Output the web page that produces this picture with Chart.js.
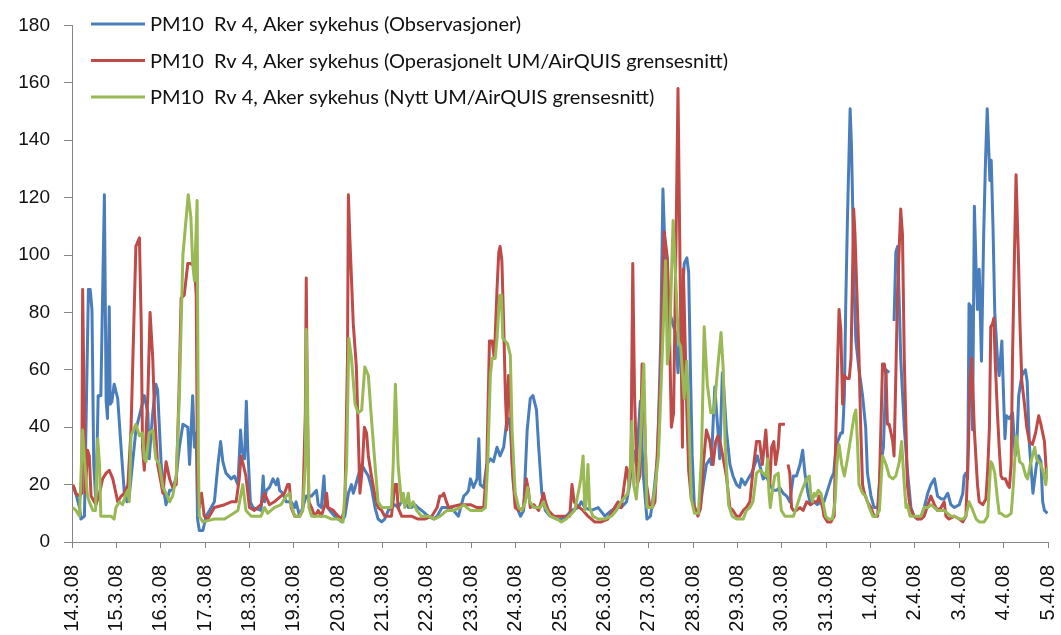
<!DOCTYPE html>
<html>
<head>
<meta charset="utf-8">
<script src="https://cdn.jsdelivr.net/npm/chart.js@4.4.1/dist/chart.umd.min.js"></script>
<style>
  html, body { margin: 0; padding: 0; background: #fff; }
  #wrap { width: 1061px; height: 635px; }
</style>
</head>
<body>
<div id="wrap"><canvas id="pmChart" width="1061" height="635"></canvas></div>
<script>
// tick labels, one per day
const dayLabels = ['14.3.08', '15.3.08', '16.3.08', '17.3.08', '18.3.08', '19.3.08', '20.3.08',
    '21.3.08', '22.3.08', '23.3.08', '24.3.08', '25.3.08', '26.3.08', '27.3.08', '28.3.08',
    '29.3.08', '30.3.08', '31.3.08', '1.4.08', '2.4.08', '3.4.08', '4.4.08', '5.4.08'];

const seriesNames = [
    'PM10  Rv 4, Aker sykehus (Observasjoner)',
    'PM10  Rv 4, Aker sykehus (Operasjonelt UM/AirQUIS grensesnitt)',
    'PM10  Rv 4, Aker sykehus (Nytt UM/AirQUIS grensesnitt)'
];

// [days since 14.3.08, PM10 value], null = missing
const observed = [
    [0.05,19],[0.17,12],[0.2,8],[0.28,9],[0.37,88],[0.41,88],[0.45,81],[0.49,27],[0.54,14],[0.59,51],
    [0.65,51],[0.73,121],[0.77,49],[0.8,43],[0.84,82],[0.86,48],[0.9,49],[0.95,55],[1.03,50],[1.11,32],
    [1.18,17],[1.24,14],[1.29,16],[1.44,39],[1.63,51],[1.71,45],[1.74,29],[1.82,45],[1.89,55],[1.93,53],
    [2.01,27],[2.08,17],[2.12,13],[2.2,18],[2.27,18],[2.35,23],[2.42,33],[2.5,41],[2.61,40],[2.65,27],
    [2.72,51],[2.76,33],[2.8,38],[2.83,8],[2.87,4],[2.95,4],[2.98,6],[3.02,9],[3.1,11],[3.21,14],
    [3.29,27],[3.35,35],[3.4,28],[3.47,24],[3.59,22],[3.66,23],[3.74,20],[3.8,39],[3.83,32],[3.89,29],
    [3.93,49],[3.96,33],[4.02,14],[4.08,12],[4.26,11],[4.31,23],[4.34,14],[4.38,18],[4.45,19],[4.53,22],
    [4.6,20],[4.64,22],[4.68,18],[4.75,17],[4.83,14],[4.94,14],[5.02,12],[5.05,14],[5.13,9],[5.2,12],
    [5.28,16],[5.4,16],[5.51,18],[5.55,13],[5.62,12],[5.68,23],[5.71,13],[5.81,11],[5.92,9],[6,8],
    [6.08,7],[6.15,9],[6.23,17],[6.3,20],[6.34,17],[6.38,19],[6.45,23],[6.53,27],[6.6,25],[6.68,23],
    [6.75,19],[6.83,12],[6.9,8],[6.98,7],[7.05,8],[7.13,11],[7.2,12],[7.28,13],[7.35,12],[7.43,14],
    [7.5,14],[7.58,12],[7.65,12],[7.73,13],[7.8,12],[7.88,11],[8.03,9],[8.15,8],[8.23,9],[8.34,12],
    [8.49,12],[8.6,11],[8.71,9],[8.83,16],[8.9,17],[8.94,18],[8.98,22],[9.05,19],[9.13,22],[9.17,36],
    [9.2,20],[9.28,19],[9.35,27],[9.43,29],[9.5,28],[9.58,33],[9.65,30],[9.73,33],[9.79,41],[9.84,43],
    [9.88,40],[9.95,20],[10.03,12],[10.11,9],[10.18,11],[10.26,39],[10.33,50],[10.39,51],[10.47,46],[10.52,33],
    [10.59,17],[10.67,11],[10.78,9],[10.93,8],[11.03,8],[11.14,9],[11.26,11],[11.41,12],[11.48,14],[11.56,12],
    [11.71,11],[11.86,12],[12.01,9],[12.16,11],[12.27,12],[12.38,12],[12.5,14],[12.57,20],[12.65,32],[12.72,27],
    [12.81,49],[12.87,25],[12.96,8],[13.04,9],[13.12,18],[13.2,30],[13.27,70],[13.32,123],[13.37,100],[13.41,92],
    [13.47,80],[13.6,73],[13.66,59],[13.74,80],[13.8,97],[13.86,99],[13.9,94],[13.94,60],[13.98,30],[14.03,12],
    [14.08,10],[14.15,11],[14.23,20],[14.3,27],[14.38,29],
    [14.41,27],[14.45,41],[14.49,54],[14.53,45],[14.56,39],[14.6,29],[14.66,59],[14.69,54],[14.75,39],[14.83,27],
    [14.9,23],[14.98,20],[15.05,19],[15.09,22],[15.17,20],[15.24,22],[15.32,24],[15.39,27],[15.45,30],[15.5,27],
    [15.58,22],[15.65,23],[15.73,20],[15.8,18],[15.88,18],[15.95,19],[16.03,17],[16.11,16],[16.18,14],[16.26,23],
    [16.33,23],[16.41,27],[16.47,32],[16.52,24],[16.59,17],[16.65,13],[16.73,14],[16.8,13],[16.88,14],[16.95,14],
    [17.03,18],[17.11,22],[17.17,24],[17.22,33],[17.26,35],[17.33,38],[17.37,38],[17.41,51],[17.44,82],[17.48,113],
    [17.54,151],[17.57,138],[17.59,123],[17.63,88],[17.67,70],[17.74,60],[17.82,51],[17.89,40],[17.93,24],[18.01,16],
    [18.08,12],[18.16,12],[18.23,27],[18.29,33],[18.35,60],[18.42,59],[18.46,null],[18.53,77],[18.57,101],[18.61,103],
    [18.65,82],[18.68,64],[18.76,40],[18.83,25],[18.91,12],[18.98,9],[19.06,8],[19.14,9],[19.21,12],[19.29,17],
    [19.36,20],[19.44,22],[19.51,16],[19.59,15],[19.66,15],[19.74,17],[19.81,13],[19.89,12],[20,13],[20.08,17],
    [20.11,23],[20.15,24],[20.19,22],[20.22,83],[20.26,82],[20.3,39],[20.34,117],[20.38,95],[20.41,81],[20.45,95],
    [20.5,63],[20.55,107],[20.59,132],[20.63,151],[20.69,126],[20.72,133],[20.76,110],[20.8,80],
    [20.86,64],[20.9,58],[20.96,70],[21.0,50],[21.03,36],[21.06,44],[21.13,43],[21.2,45],[21.26,30],[21.3,35],
    [21.34,51],[21.41,58],[21.49,60],[21.53,56],[21.58,34],[21.66,17],[21.7,22],[21.74,27],
    [21.79,30],[21.84,28],[21.88,14],[21.92,11],[21.99,10]
];

const operational = [
    [0.02,20],[0.08,17],[0.17,16],[0.22,17],[0.24,88],[0.3,17],[0.35,32],[0.39,30],[0.43,16],[0.54,13],
    [0.62,17],[0.69,22],[0.77,24],[0.84,25],[0.92,22],[0.99,17],[1.03,14],[1.11,16],[1.18,17],[1.26,20],
    [1.33,39],[1.44,103],[1.52,106],[1.56,76],[1.59,33],[1.63,25],[1.71,51],[1.76,80],[1.82,64],[1.86,45],
    [1.93,27],[2.05,17],[2.12,28],[2.2,22],[2.27,19],[2.35,20],[2.41,51],[2.46,85],[2.53,86],[2.61,97],
    [2.68,97],[2.76,96],[2.8,86],[2.83,20],[2.87,12],[2.89,16],[2.92,17],[2.98,9],[3.06,8],[3.21,12],
    [3.44,13],[3.59,14],[3.7,14],[3.77,22],[3.81,30],[3.86,27],[3.92,23],[4,12],[4.11,11],[4.26,13],
    [4.34,17],[4.45,13],[4.56,14],[4.71,16],[4.79,17],[4.86,20],[4.9,20],[4.94,12],[5.02,9],[5.13,9],
    [5.2,11],[5.26,45],[5.28,92],[5.31,40],[5.34,14],[5.4,12],[5.47,9],[5.55,11],[5.62,9],[5.7,13],
    [5.74,17],[5.77,12],[5.89,11],[6,9],[6.08,8],[6.15,12],[6.21,64],[6.23,121],[6.26,107],[6.34,76],
    [6.41,61],[6.45,39],[6.49,17],[6.54,25],[6.59,40],[6.64,38],[6.68,30],[6.75,23],[6.83,16],[6.9,12],
    [6.98,11],[7.05,9],[7.2,9],[7.28,20],[7.32,20],[7.35,12],[7.43,9],[7.5,9],[7.65,9],[7.8,8],
    [7.95,8],[8.11,9],[8.23,12],[8.29,16],[8.34,16],[8.38,17],[8.44,14],[8.49,12],[8.75,13],[8.98,13],
    [9.13,12],[9.28,12],[9.35,27],[9.41,70],[9.47,70],[9.52,64],[9.58,88],[9.62,101],[9.65,103],[9.69,98],
    [9.73,76],[9.77,51],[9.8,39],[9.84,58],[9.88,51],[9.92,27],[9.99,12],[10.07,11],[10.18,12],[10.24,22],
    [10.29,18],[10.33,12],[10.41,13],[10.52,11],[10.63,17],[10.67,14],[10.74,11],[10.86,9],[11.01,9],[11.22,9],
    [11.27,20],[11.32,14],[11.37,13],[11.44,12],[11.52,11],[11.63,9],[11.78,7],[11.93,7],[12.08,8],[12.23,12],
    [12.31,14],[12.38,12],[12.5,26],[12.56,20],[12.6,29],[12.64,97],[12.68,51],[12.74,20],[12.8,23],[12.85,62],
    [12.89,50],[12.95,20],[13.02,13],[13.08,12],[13.14,14],[13.19,30],[13.27,60],[13.32,95],[13.35,108],[13.42,99],
    [13.46,80],[13.51,40],[13.56,45],[13.62,110],[13.66,158],[13.71,90],[13.76,33],[13.78,95],[13.82,70],[13.86,45],
    [13.9,25],[13.96,15],[14.04,12],[14.11,9],[14.17,12],[14.23,27],[14.3,39],
    [14.38,35],[14.45,27],[14.51,35],[14.56,37],[14.62,34],[14.68,29],[14.75,23],[14.83,12],[14.9,11],[14.98,9],
    [15.05,9],[15.13,11],[15.2,12],[15.28,14],[15.35,25],[15.43,35],[15.5,35],[15.56,27],[15.64,39],[15.69,27],
    [15.73,20],[15.77,33],[15.82,35],[15.86,27],[15.92,33],[15.95,41],[16.03,41],[16.07,41],[16.11,null],[16.14,27],
    [16.18,24],[16.22,12],[16.26,11],[16.33,11],[16.41,12],[16.48,11],[16.56,14],[16.65,13],[16.73,14],[16.8,14],
    [16.84,16],[16.92,12],[16.95,9],[17.03,7],[17.11,7],[17.18,9],[17.22,39],[17.26,64],[17.29,81],[17.33,74],
    [17.37,48],[17.41,58],[17.47,57],[17.52,57],[17.56,64],[17.62,116],[17.65,107],[17.69,88],[17.74,64],[17.78,39],
    [17.82,20],[17.86,17],[17.93,14],[18.01,12],[18.08,9],[18.16,9],[18.2,20],[18.27,62],[18.31,62],[18.35,58],
    [18.38,41],[18.42,41],[18.5,35],[18.53,30],[18.57,58],[18.61,88],[18.68,116],[18.72,107],[18.76,64],[18.8,39],
    [18.83,20],[18.89,12],[18.98,9],[19.06,8],[19.14,8],[19.21,9],[19.29,13],[19.36,16],[19.44,13],[19.51,11],
    [19.59,12],[19.66,14],[19.7,9],[19.77,8],[19.89,9],[20,8],[20.08,7],[20.15,9],[20.21,35],[20.24,55],
    [20.28,64],[20.34,39],[20.38,28],[20.41,20],[20.45,14],[20.53,13],[20.6,15],[20.64,25],[20.68,40],[20.71,75],
    [20.75,76],[20.78,78],[20.81,63],[20.86,45],[20.9,33],[20.94,23],[20.98,22],[21.04,22],[21.09,20],[21.13,19],
    [21.17,27],[21.2,64],[21.24,97],[21.28,128],[21.33,101],[21.37,75],[21.41,56],[21.47,48],[21.52,40],[21.58,35],
    [21.65,34],[21.72,38],[21.79,44],[21.84,41],[21.92,35],[21.96,25],[21.99,22]
];

const newInterface = [
    [0.02,12],[0.09,11],[0.17,9],[0.24,39],[0.28,29],[0.35,16],[0.39,14],[0.47,11],[0.53,11],[0.58,36],
    [0.62,27],[0.65,9],[0.77,9],[0.88,9],[0.95,8],[0.99,12],[1.07,14],[1.14,13],[1.22,17],[1.26,18],
    [1.29,14],[1.33,37],[1.44,41],[1.52,37],[1.59,38],[1.63,29],[1.67,28],[1.74,38],[1.82,39],[1.89,29],
    [1.97,27],[2.05,19],[2.12,17],[2.2,14],[2.27,16],[2.35,23],[2.42,51],[2.5,100],[2.62,121],[2.68,113],
    [2.72,97],[2.76,91],[2.82,119],[2.85,27],[2.87,9],[2.95,7],[3.21,8],[3.44,8],[3.74,11],[3.85,20],
    [3.92,11],[4.04,9],[4.26,9],[4.34,12],[4.41,10],[4.56,12],[4.71,13],[4.83,16],[4.9,17],[4.94,13],
    [5.02,9],[5.13,9],[5.2,11],[5.26,27],[5.28,74],[5.31,51],[5.34,12],[5.4,9],[5.55,9],[5.7,9],
    [5.85,8],[6,8],[6.11,7],[6.19,27],[6.24,71],[6.3,64],[6.38,48],[6.45,45],[6.53,46],[6.6,61],
    [6.68,58],[6.75,43],[6.83,27],[6.9,14],[6.98,12],[7.09,12],[7.2,12],[7.24,27],[7.29,55],[7.35,27],
    [7.39,20],[7.43,14],[7.47,17],[7.5,12],[7.54,14],[7.58,17],[7.62,12],[7.69,14],[7.77,11],[7.88,9],
    [8.03,9],[8.18,8],[8.3,9],[8.45,11],[8.6,11],[8.75,12],[8.83,13],[8.9,12],[8.98,11],[9.13,11],
    [9.24,11],[9.32,12],[9.37,27],[9.43,58],[9.47,64],[9.54,64],[9.58,71],[9.64,86],[9.68,86],[9.71,71],
    [9.77,70],[9.82,69],[9.88,65],[9.92,39],[9.99,17],[10.07,12],[10.14,11],[10.22,14],[10.27,19],[10.32,14],
    [10.41,12],[10.56,12],[10.63,14],[10.67,12],[10.78,9],[10.93,8],[11.03,7],[11.14,8],[11.33,11],[11.41,17],
    [11.47,22],[11.52,30],[11.56,11],[11.59,14],[11.63,27],[11.67,12],[11.74,9],[11.86,8],[12.01,8],[12.16,9],
    [12.27,11],[12.38,14],[12.53,17],[12.59,27],[12.62,42],[12.66,20],[12.72,15],[12.8,30],[12.85,50],[12.89,62],
    [12.93,30],[12.96,12],[13.08,12],[13.15,20],[13.22,30],[13.28,55],[13.34,80],[13.38,98],[13.42,62],[13.47,70],
    [13.55,112],[13.61,91],[13.67,70],[13.72,68],[13.8,50],[13.86,63],[13.91,40],[13.96,15],[14.03,10],[14.12,10],
    [14.19,30],[14.25,75],[14.32,55],[14.4,45],[14.47,45],[14.55,60],[14.63,73],[14.68,60],[14.72,35],[14.8,13],
    [14.88,9],[14.98,8],[15.05,8],[15.13,8],[15.2,11],
    [15.28,12],[15.35,14],[15.43,24],[15.5,25],[15.58,24],[15.64,23],[15.68,29],[15.71,17],[15.74,12],[15.79,18],
    [15.84,23],[15.92,24],[15.95,17],[15.99,11],[16.07,9],[16.14,9],[16.26,9],[16.33,12],[16.41,16],[16.48,19],
    [16.56,22],[16.62,23],[16.65,17],[16.69,14],[16.73,17],[16.77,16],[16.82,18],[16.88,17],[16.94,13],[16.99,9],
    [17.05,8],[17.14,8],[17.2,14],[17.24,27],[17.29,34],[17.35,27],[17.41,23],[17.48,29],[17.56,37],[17.63,44],
    [17.67,46],[17.71,33],[17.74,20],[17.82,17],[17.89,16],[17.97,12],[18.05,9],[18.12,9],[18.2,11],[18.27,30],
    [18.35,27],[18.42,23],[18.5,22],[18.57,23],[18.65,28],[18.7,35],[18.76,20],[18.8,12],[18.83,13],[18.89,9],
    [18.98,9],[19.06,9],[19.14,9],[19.21,12],[19.29,12],[19.36,13],[19.44,12],[19.51,11],[19.66,11],[19.81,9],
    [19.89,9],[20,8],[20.08,8],[20.15,9],[20.22,14],[20.28,12],[20.38,8],[20.45,7],[20.56,7],[20.64,9],
    [20.71,28],[20.75,27],[20.8,24],[20.86,15],[20.9,10],[20.94,10],[21.02,9],[21.09,9],[21.17,10],[21.22,20],
    [21.28,37],[21.32,33],[21.36,28],[21.43,27],[21.5,23],[21.54,22],[21.6,27],[21.7,33],[21.74,29],
    [21.79,28],[21.84,27],[21.9,24],[21.95,20],[21.99,26]
];

const lineColors = ['#4A7EBB', '#BE4B48', '#98B954'];

function toPoints(pairs) {
    return pairs.map(p => ({ x: p[0], y: p[1] }));
}

// legend drawn as short line samples inside the plot, top left
const lineLegend = {
    id: 'lineLegend',
    afterDatasetsDraw(chart) {
        const ctx = chart.ctx;
        const x0 = chart.chartArea.left + 19;
        ctx.save();
        ctx.font = '20px Lato';
        ctx.textBaseline = 'middle';
        ctx.lineCap = 'butt';
        chart.data.datasets.forEach((ds, i) => {
            const y = 24 + i * 36.5;
            ctx.strokeStyle = ds.borderColor;
            ctx.lineWidth = 3;
            ctx.beginPath();
            ctx.moveTo(x0, y);
            ctx.lineTo(x0 + 54, y);
            ctx.stroke();
            ctx.fillStyle = '#111';
            ctx.fillText(ds.label, x0 + 59, y + 1);
        });
        ctx.restore();
    }
};

const axisFont = { family: 'Liberation Sans', size: 19 };

new Chart(document.getElementById('pmChart'), {
    type: 'line',
    data: {
        datasets: [
            { label: seriesNames[0], data: toPoints(observed), borderColor: lineColors[0], backgroundColor: lineColors[0], order: 3 },
            { label: seriesNames[1], data: toPoints(operational), borderColor: lineColors[1], backgroundColor: lineColors[1], order: 2 },
            { label: seriesNames[2], data: toPoints(newInterface), borderColor: lineColors[2], backgroundColor: lineColors[2], order: 1 }
        ]
    },
    options: {
        responsive: false,
        animation: false,
        spanGaps: false,
        elements: {
            line: { borderWidth: 3, tension: 0, fill: false, borderJoinStyle: 'round' },
            point: { radius: 0 }
        },
        layout: { padding: { top: 20, right: 13, left: 0, bottom: 0 } },
        plugins: {
            legend: { display: false },
            tooltip: { enabled: false }
        },
        scales: {
            x: {
                type: 'linear',
                min: 0,
                max: 22,
                afterFit(scale) {
                    scale.height = 93;
                    scale.paddingLeft = 0;
                    scale.paddingRight = 0;
                },
                ticks: {
                    stepSize: 1,
                    autoSkip: false,
                    minRotation: 90,
                    maxRotation: 90,
                    padding: 17,
                    color: '#111',
                    font: { family: 'Liberation Sans', size: 20 },
                    callback: v => dayLabels[v]
                },
                grid: { display: true, drawOnChartArea: false, drawTicks: true, tickLength: 6, color: '#868686' },
                border: { display: true, color: '#868686', width: 1 }
            },
            y: {
                min: 0,
                max: 180,
                afterFit(scale) { scale.width = 72; },
                ticks: { stepSize: 20, padding: 14, color: '#111', font: axisFont },
                grid: { display: true, drawOnChartArea: false, drawTicks: true, tickLength: 8, color: '#868686' },
                border: { display: true, color: '#868686', width: 1 }
            }
        }
    },
    plugins: [lineLegend]
});
</script>
</body>
</html>
